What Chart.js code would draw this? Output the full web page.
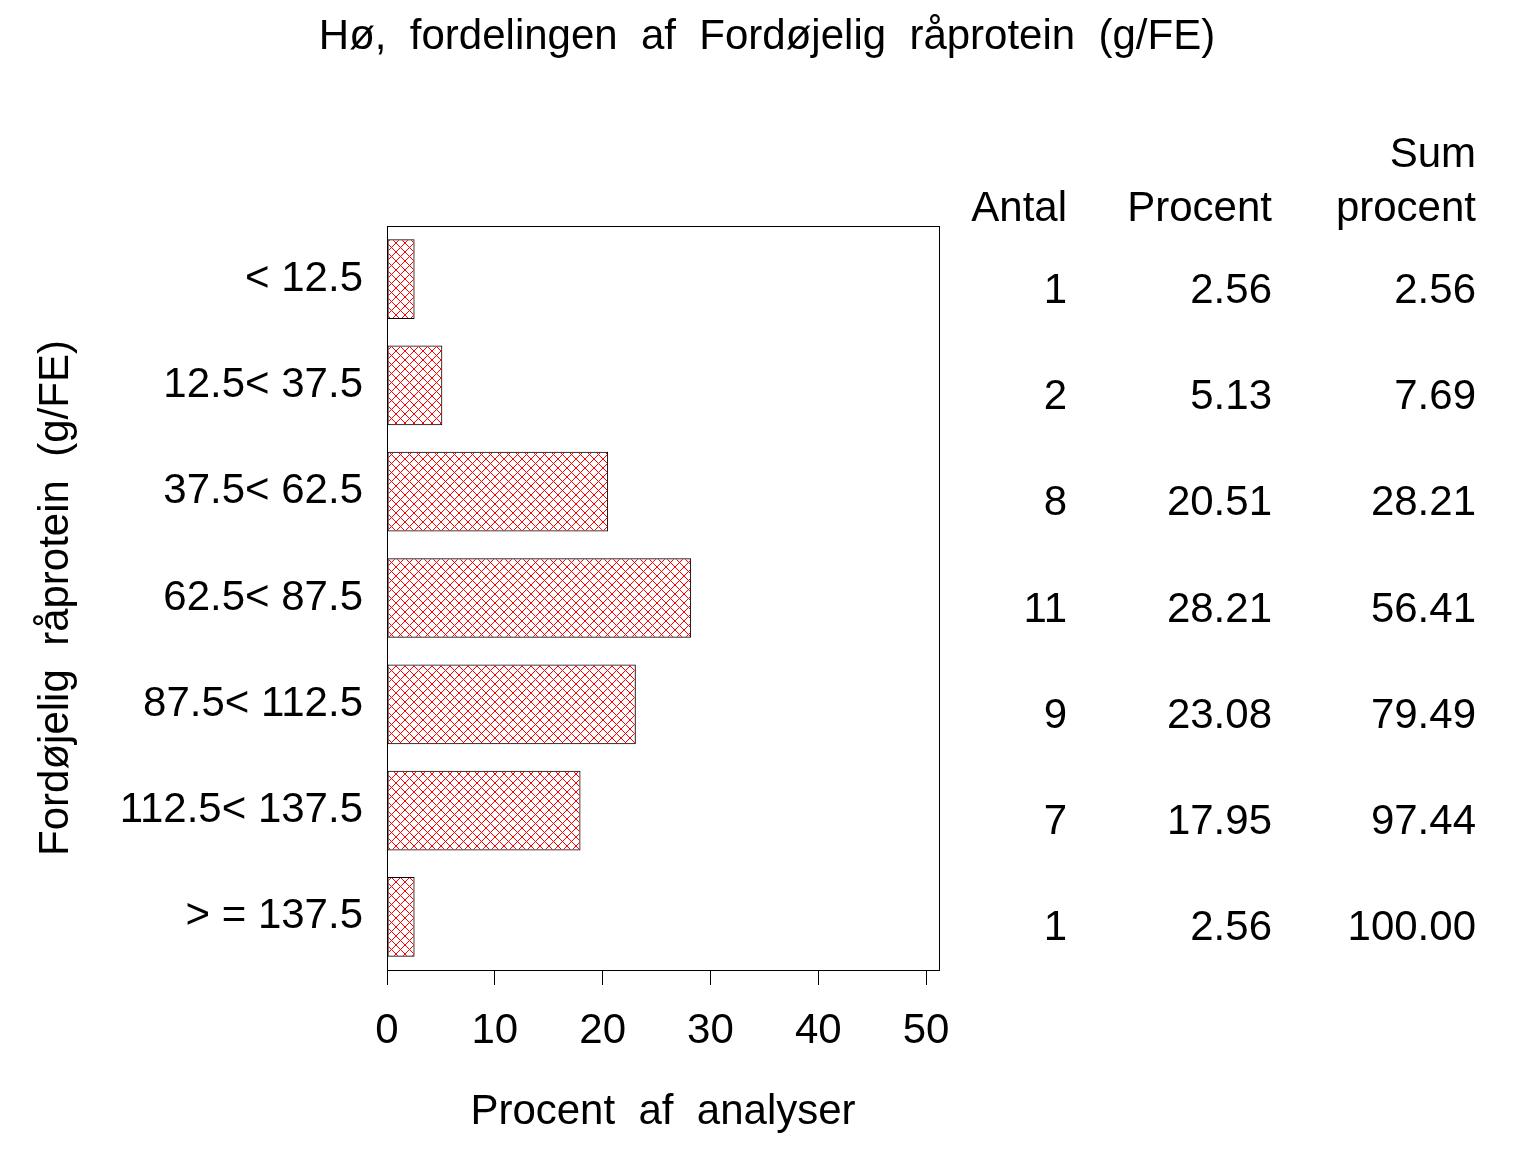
<!DOCTYPE html>
<html>
<head>
<meta charset="utf-8">
<title>Hø, fordelingen af Fordøjelig råprotein</title>
<script src="https://cdn.jsdelivr.net/npm/chart.js@4.4.1/dist/chart.umd.min.js"></script>
<style>
  body { margin: 0; background: #fff; }
  canvas { display: block; }
</style>
</head>
<body>
<canvas id="chart" width="1536" height="1152"></canvas>
<script>
// data
const categories = ['< 12.5', '12.5< 37.5', '37.5< 62.5', '62.5< 87.5', '87.5< 112.5', '112.5< 137.5', '> = 137.5'];
const antal = [1, 2, 8, 11, 9, 7, 1];
const procent = [2.56, 5.13, 20.51, 28.21, 23.08, 17.95, 2.56];
const sumProcent = [2.56, 7.69, 28.21, 56.41, 79.49, 97.44, 100.00];
const xTicks = [0, 10, 20, 30, 40, 50];

const FONT = "'Liberation Sans', Arial, sans-serif";
const SIZE = 42;

// red crosshatch fill, drawn pixel by pixel so the lines stay sharp
function crossHatch(color) {
    let s = 9;
    let c = document.createElement('canvas');
    c.width = s;
    c.height = s;
    let g = c.getContext('2d');
    g.fillStyle = color;
    for (let i = 0; i < s; i++) {
        g.fillRect(i, i, 1, 1);
        g.fillRect(s - 1 - i, i, 1, 1);
    }
    return g.createPattern(c, 'repeat');
}

// frame round the plot area
const framePlugin = {
    id: 'frame',
    afterDatasetsDraw(chart) {
        let a = chart.chartArea;
        let ctx = chart.ctx;
        ctx.save();
        ctx.strokeStyle = '#000';
        ctx.lineWidth = 1;
        ctx.strokeRect(Math.round(a.left) + 0.5, Math.round(a.top) + 0.5,
            Math.round(a.right - a.left), Math.round(a.bottom - a.top));
        ctx.restore();
    }
};

// title and the table to the right of the bars
const tablePlugin = {
    id: 'table',
    afterDraw(chart) {
        let ctx = chart.ctx;
        let y = chart.scales.y;
        let cols = [1067, 1272, 1476];
        ctx.save();
        ctx.fillStyle = '#000';
        ctx.font = SIZE + 'px ' + FONT;
        ctx.textBaseline = 'middle';
        ctx.textAlign = 'center';
        ctx.fillText('Hø,  fordelingen  af  Fordøjelig  råprotein  (g/FE)', 767, 37);
        ctx.textAlign = 'right';
        ctx.fillText('Sum', cols[2], 155);
        ctx.fillText('Antal', cols[0], 209);
        ctx.fillText('Procent', cols[1], 209);
        ctx.fillText('procent', cols[2], 209);
        for (let i = 0; i < categories.length; i++) {
            let py = y.getPixelForValue(i) + 12;
            ctx.fillText(String(antal[i]), cols[0], py);
            ctx.fillText(procent[i].toFixed(2), cols[1], py);
            ctx.fillText(sumProcent[i].toFixed(2), cols[2], py);
        }
        ctx.restore();
    }
};

new Chart(document.getElementById('chart'), {
    type: 'bar',
    data: {
        labels: categories,
        datasets: [{
            label: 'Procent',
            data: procent,
            backgroundColor: crossHatch('#ff0000'),
            borderColor: '#000',
            borderWidth: 1,
            borderSkipped: false,
            categoryPercentage: 1,
            barPercentage: 0.75
        }]
    },
    options: {
        indexAxis: 'y',
        responsive: false,
        animation: false,
        devicePixelRatio: 1,
        layout: { padding: { left: 31, right: 597, top: 226, bottom: 14 } },
        plugins: {
            legend: { display: false },
            tooltip: { enabled: false },
            title: { display: false }
        },
        scales: {
            x: {
                min: 0,
                max: 51.2,
                afterBuildTicks: axis => { axis.ticks = xTicks.map(v => ({ value: v })); },
                afterFit: axis => { axis.height = 1152 - 970 - 14; },
                grid: { drawOnChartArea: false, color: '#000', tickLength: 15, tickWidth: 1 },
                border: { color: '#000', width: 1 },
                ticks: { color: '#000', font: { family: FONT, size: SIZE }, padding: 21, maxRotation: 0 },
                title: {
                    display: true,
                    text: 'Procent  af  analyser',
                    color: '#000',
                    font: { family: FONT, size: SIZE },
                    padding: 0
                }
            },
            y: {
                afterFit: axis => { axis.width = 387 - 31; },
                grid: { display: false },
                border: { color: '#000', width: 1 },
                ticks: { color: '#000', font: { family: FONT, size: SIZE }, padding: 16 },
                title: {
                    display: true,
                    text: 'Fordøjelig  råprotein  (g/FE)',
                    color: '#000',
                    font: { family: FONT, size: SIZE },
                    padding: 0
                }
            }
        }
    },
    plugins: [framePlugin, tablePlugin]
});
</script>
</body>
</html>
